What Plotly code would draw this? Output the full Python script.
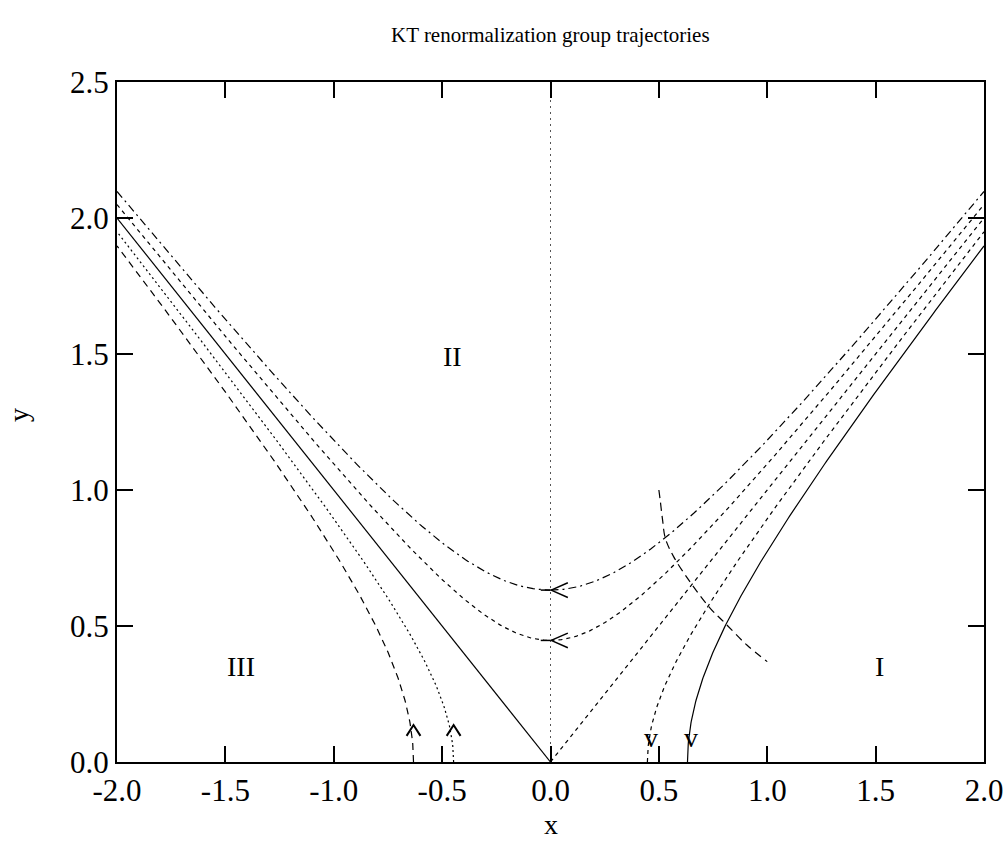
import numpy as np
import plotly.graph_objects as go

# ---- data ----
# region II trajectories: minimum height y0 at x = 0  (y^2 - x^2 = y0^2)
region2_y0 = [0.632, 0.447]
region2_left_dash = ["8px,4px,2px,4px", "4px,4px"]
region2_right_dash = ["8px,4px,2px,4px", "4px,4px"]
# regions I / III trajectories: foot x0 on the axis  (x^2 - y^2 = x0^2)
region13_x0 = [0.632, 0.447]
region3_dash = ["7px,5px", "2px,3px"]
region1_dash = ["solid", "4px,4px"]
# long-dashed crossing curve
cross_x = [0.500, 0.506, 0.517, 0.530, 0.568, 0.650, 0.737, 0.806, 0.906, 1.000]
cross_y = [1.000, 0.963, 0.890, 0.822, 0.755, 0.655, 0.565, 0.510, 0.430, 0.369]
# region labels
label_text = ["I", "II", "III"]
label_x = [1.52, -0.45, -1.43]
label_y = [0.35, 1.49, 0.35]

x_ticks = [-2.0, -1.5, -1.0, -0.5, 0.0, 0.5, 1.0, 1.5, 2.0]
y_ticks = [0.0, 0.5, 1.0, 1.5, 2.0, 2.5]
XMIN, XMAX, YMIN, YMAX = -2.0, 2.0, 0.0, 2.5

W, H = 1007, 842
ML, MR, MT, MB = 117, 23, 82, 80
PW, PH = W - ML - MR, H - MT - MB

FONT = "Liberation Serif, Times New Roman, serif"
fig = go.Figure()

def line(x, y, dash="solid", width=1.2, color="black"):
    fig.add_trace(go.Scatter(x=x, y=y, mode="lines", showlegend=False,
                             hoverinfo="skip", cliponaxis=False,
                             line=dict(color=color, width=width, dash=dash)))

# vertical dotted line at x = 0
line([0, 0], [YMIN, YMAX], dash="2px,4px", width=1, color="#555555")

# region II hyperbolas
for y0, dl, dr in zip(region2_y0, region2_left_dash, region2_right_dash):
    xl = np.linspace(XMIN, 0, 200)
    line(xl, np.sqrt(xl**2 + y0**2), dash=dl)
    xr = np.linspace(0, XMAX, 200)
    line(xr, np.sqrt(xr**2 + y0**2), dash=dr)

# separatrices y = |x|
line([XMIN, 0], [-XMIN, 0], dash="solid")
line([0, XMAX], [0, XMAX], dash="4px,4px")

# regions I and III hyperbolas
for x0, d3, d1 in zip(region13_x0, region3_dash, region1_dash):
    yy = np.linspace(0, np.sqrt(XMAX**2 - x0**2), 200)
    xx = np.sqrt(yy**2 + x0**2)
    line(-xx, yy, dash=d3)
    line(xx, yy, dash=d1)

# crossing curve
fig.add_trace(go.Scatter(x=cross_x, y=cross_y, mode="lines", showlegend=False,
                         hoverinfo="skip",
                         line=dict(color="black", width=1.2, dash="8px,5px",
                                   shape="spline")))

# arrow heads on region II trajectories (pointing left, at x = 0)
for y0 in region2_y0:
    line([-0.045, 0.0], [y0, y0], width=1.5)
    line([0.08, 0.003, 0.08], [y0 + 0.027, y0, y0 - 0.027], width=1.5)

# arrow heads on region III trajectories (pointing up)
for x0 in region13_x0:
    line([-x0 - 0.032, -x0, -x0 + 0.032], [0.096, 0.136, 0.096], width=2)

annotations = []
# "v" marks on region I trajectories
for x0 in region13_x0:
    annotations.append(dict(x=x0 + 0.016, y=0.09, text="v", showarrow=False,
                            xref="x", yref="y",
                            font=dict(family=FONT, size=28, color="black")))
for t, lx, ly in zip(label_text, label_x, label_y):
    annotations.append(dict(x=lx, y=ly, text=t, showarrow=False, xref="x", yref="y",
                            font=dict(family=FONT, size=28, color="black")))
annotations.append(dict(x=0.5, y=(H - MB - 841) / PH, xref="paper", yref="paper",
                        text="x", showarrow=False, yanchor="bottom", borderpad=0,
                        font=dict(family=FONT, size=28, color="black")))
annotations.append(dict(x=(18 - ML) / PW, y=(H - MB - 415) / PH, xref="paper", yref="paper",
                        text="y", showarrow=False, textangle=-90,
                        xanchor="center", yanchor="middle",
                        font=dict(family=FONT, size=28, color="black")))

axis_common = dict(showgrid=False, zeroline=False, showline=True, linewidth=2,
                   linecolor="black", mirror="ticks", ticks="inside", ticklen=16,
                   tickwidth=2, tickcolor="black", automargin=False,
                   tickfont=dict(family=FONT, size=31, color="black"))

fig.update_layout(
    width=W, height=H,
    margin=dict(l=ML, r=MR, t=MT, b=MB),
    paper_bgcolor="white", plot_bgcolor="white",
    title=dict(text="KT renormalization group trajectories", x=0.5465, xanchor="center",
               y=1 - 35 / H, yanchor="middle", yref="container",
               font=dict(family=FONT, size=21, color="black")),
    xaxis=dict(range=[XMIN, XMAX], tickvals=x_ticks,
               ticktext=[f"{v:.1f}" for v in x_ticks], **axis_common),
    yaxis=dict(range=[YMIN, YMAX], tickvals=y_ticks,
               ticktext=[f"{v:.1f}" for v in y_ticks], **axis_common),
    annotations=annotations,
)

fig.write_html("out.html")
